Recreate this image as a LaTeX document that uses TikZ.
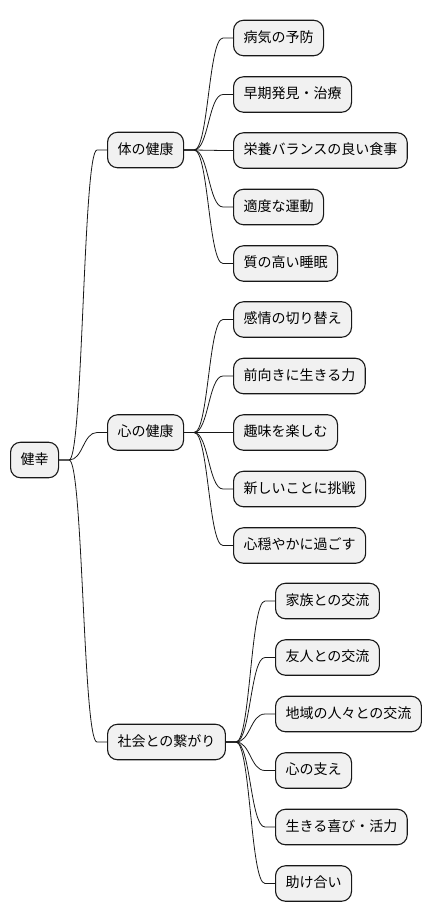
\documentclass[tikz,border=0pt]{standalone}
\usepackage{fontspec}
\usetikzlibrary{calc}
\setmainfont{Noto Sans CJK JP}
\definecolor{boxfill}{HTML}{F1F1F1}
\definecolor{boxline}{HTML}{181818}
\begin{document}
\begin{tikzpicture}[x=1pt,y=-1pt,
  mm/.style={draw=boxline,fill=boxfill,line width=1.1pt,rounded corners=10pt,
    anchor=west,minimum height=35.5pt,inner xsep=10pt,inner ysep=0pt,
    text height=10.5pt,text depth=2.5pt,font=\fontsize{14pt}{16pt}\selectfont},
  link/.style={draw=boxline,line width=0.8pt}]
\useasboundingbox (0,0) rectangle (432,921);
% root
\node[mm] (root) at (10,460) {健幸};
% level 1
\node[mm] (body) at (107,150) {体の健康};
\node[mm] (mind) at (107,432.5) {心の健康};
\node[mm] (soc) at (107,742) {社会との繋がり};
% body children
\node[mm] (b1) at (233,38) {病気の予防};
\node[mm] (b2) at (233,94.5) {早期発見・治療};
\node[mm] (b3) at (233,150.5) {栄養バランスの良い食事};
\node[mm] (b4) at (233,207) {適度な運動};
\node[mm] (b5) at (233,263.5) {質の高い睡眠};
% mind children
\node[mm] (m1) at (233,319.5) {感情の切り替え};
\node[mm] (m2) at (233,376) {前向きに生きる力};
\node[mm] (m3) at (233,432.5) {趣味を楽しむ};
\node[mm] (m4) at (233,489) {新しいことに挑戦};
\node[mm] (m5) at (233,545.5) {心穏やかに過ごす};
% social children
\node[mm] (s1) at (275,601) {家族との交流};
\node[mm] (s2) at (275,657.5) {友人との交流};
\node[mm] (s3) at (275,714) {地域の人々との交流};
\node[mm] (s4) at (275,770.5) {心の支え};
\node[mm] (s5) at (275,827) {生きる喜び・活力};
\node[mm] (s6) at (275,883.5) {助け合い};
% connectors
\newcommand{\mmlink}[2]{%
  \coordinate (p1) at ($(#1.east)+(10,0)$);
  \coordinate (p2) at ($(#2.west)+(-10,0)$);
  \coordinate (pm) at ($(p1)!0.5!(p2)$);
  \draw[link] (#1.east) -- (p1) .. controls (pm |- p1) and (pm |- p2) .. (p2) -- (#2.west);
}
\mmlink{root}{body}
\mmlink{root}{mind}
\mmlink{root}{soc}
\mmlink{body}{b1}
\mmlink{body}{b2}
\mmlink{body}{b3}
\mmlink{body}{b4}
\mmlink{body}{b5}
\mmlink{mind}{m1}
\mmlink{mind}{m2}
\mmlink{mind}{m3}
\mmlink{mind}{m4}
\mmlink{mind}{m5}
\mmlink{soc}{s1}
\mmlink{soc}{s2}
\mmlink{soc}{s3}
\mmlink{soc}{s4}
\mmlink{soc}{s5}
\mmlink{soc}{s6}
\end{tikzpicture}
\end{document}
